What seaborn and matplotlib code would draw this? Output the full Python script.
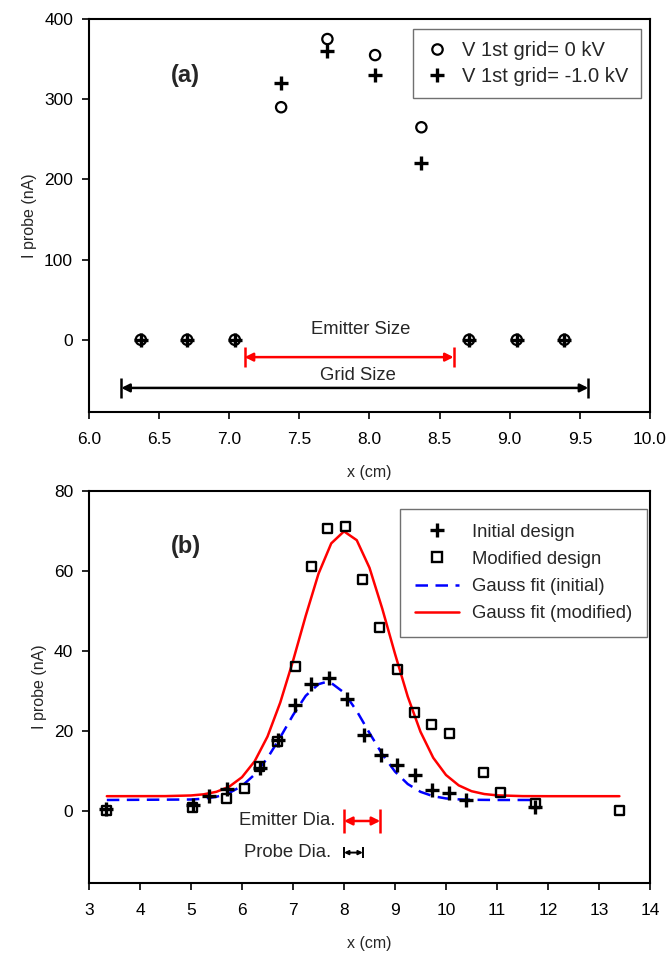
import numpy as np
import pandas as pd
import matplotlib
matplotlib.use("Agg")
import matplotlib.pyplot as plt
from matplotlib.lines import Line2D
import seaborn as sns

# ---------------- data: panel (a) ----------------
xa = [6.37, 6.70, 7.04, 7.37, 7.70, 8.04, 8.37, 8.71, 9.05, 9.39]
ia_0kv = [0, 0, 0, 290, 375, 355, 265, 0, 0, 0]
ia_m1kv = [0, 0, 0, 320, 360, 330, 220, 0, 0, 0]
legend_a = ["V 1st grid= 0 kV", "V 1st grid= -1.0 kV"]

# ---------------- data: panel (b) ----------------
x_init = [3.34, 5.03, 5.36, 5.70, 6.36, 6.70, 7.04, 7.35, 7.71, 8.05, 8.39,
          8.73, 9.04, 9.40, 9.72, 10.06, 10.39, 11.75]
i_init = [0.6, 1.5, 3.7, 5.4, 10.8, 17.7, 26.4, 31.8, 33.2, 28.0, 18.9,
          13.9, 11.6, 9.0, 5.2, 4.6, 2.7, 1.0]
x_mod = [3.34, 5.03, 5.70, 6.04, 6.34, 6.70, 7.04, 7.36, 7.68, 8.02, 8.37,
         8.70, 9.04, 9.39, 9.72, 10.06, 10.73, 11.07, 11.75, 13.41]
i_mod = [0.0, 0.8, 3.2, 5.6, 11.0, 17.4, 36.1, 61.0, 70.5, 71.2, 57.8,
         45.8, 35.3, 24.7, 21.6, 19.3, 9.5, 4.7, 1.8, 0.0]

# Gauss fit curves
fit_init_x = [3.35, 5.0, 5.25, 5.5, 5.75, 6.0, 6.25, 6.5, 6.75, 7.0, 7.25, 7.5,
              7.65, 7.75, 8.0, 8.25, 8.5, 8.75, 9.0, 9.25, 9.5, 9.75, 10.0,
              10.25, 10.5, 11.0, 11.75]
fit_init_y = [2.75, 2.87, 3.08, 3.55, 4.51, 6.27, 9.13, 13.25, 18.4, 23.96,
              28.8, 31.7, 32.25, 32.0, 29.6, 25.0, 19.5, 14.2, 9.85, 6.74,
              4.79, 3.69, 3.14, 2.90, 2.80, 2.75, 2.75]
fit_mod_x = [3.35, 4.5, 5.0, 5.25, 5.5, 5.75, 6.0, 6.25, 6.5, 6.75, 7.0, 7.25,
             7.5, 7.75, 8.0, 8.25, 8.5, 8.75, 9.0, 9.25, 9.5, 9.75, 10.0,
             10.25, 10.5, 10.75, 11.0, 11.5, 12.0, 13.4]
fit_mod_y = [3.7, 3.72, 3.88, 4.17, 4.80, 6.08, 8.45, 12.46, 18.6, 27.1, 37.5,
             48.8, 59.3, 66.9, 69.9, 67.7, 60.8, 50.6, 39.3, 28.6, 19.8, 13.3,
             9.0, 6.4, 4.95, 4.24, 3.91, 3.72, 3.7, 3.7]
legend_b = ["Initial design", "Modified design", "Gauss fit (initial)",
            "Gauss fit (modified)"]

# annotation values (x start, x end, y)
grid_size = [6.23, 9.56, -60]
emitter_size = [7.11, 8.60, -21.6]
emitter_dia = [8.00, 8.71, -2.5]
probe_dia = [8.00, 8.37, -10.4]

# ---------------- style ----------------
sns.set_style("ticks")
plt.rcParams["font.family"] = ["Liberation Sans", "DejaVu Sans"]
plt.rcParams["axes.linewidth"] = 1.5
plt.rcParams["xtick.major.width"] = 1.2
plt.rcParams["ytick.major.width"] = 1.2
plt.rcParams["xtick.major.size"] = 5
plt.rcParams["ytick.major.size"] = 5
plt.rcParams["xtick.direction"] = "out"
plt.rcParams["ytick.direction"] = "out"

TXT = 13.3

fig = plt.figure(figsize=(6.69, 9.55), dpi=100)
ax1 = fig.add_axes([0.133, 0.5686, 0.8386, 0.4115])
ax2 = fig.add_axes([0.133, 0.0754, 0.8386, 0.4105])

for ax in (ax1, ax2):
    for s in ax.spines.values():
        s.set_visible(True)
        s.set_color("black")
        s.set_linewidth(1.5)
    ax.tick_params(labelsize=12.5, colors="black")
    ax.tick_params(axis="x", pad=9.5)
    ax.tick_params(axis="y", pad=6.5)

# ---------- panel (a) ----------
df_a = pd.DataFrame({"x": xa, "v0": ia_0kv, "v1": ia_m1kv})
sns.scatterplot(data=df_a, x="x", y="v0", ax=ax1, marker="o", s=55,
                facecolor="none", edgecolor="black", linewidth=1.6, zorder=3)
sns.scatterplot(data=df_a, x="x", y="v1", ax=ax1, marker="+", s=110,
                color="black", linewidth=2.4, zorder=4)
ax1.set_xlim(6.0, 10.0)
ax1.set_ylim(-90, 400)
ax1.set_xticks(np.arange(6.0, 10.01, 0.5))
ax1.set_xticklabels([f"{v:.1f}" for v in np.arange(6.0, 10.01, 0.5)])
ax1.set_yticks([0, 100, 200, 300, 400])
ax1.set_xlabel("x (cm)", fontsize=11.5, labelpad=13)
ax1.set_ylabel("I probe (nA)", fontsize=11.5, labelpad=5)
ax1.text(6.69, 329, "(a)", fontsize=17, fontweight="bold", ha="center", va="center")


def dim_arrow(ax, x0, x1, y, color, caph, lw, ms):
    ax.annotate("", xy=(x1, y), xytext=(x0, y),
                arrowprops=dict(arrowstyle="<|-|>", color=color, lw=lw,
                                shrinkA=0, shrinkB=0, mutation_scale=ms))
    ax.vlines([x0, x1], y - caph, y + caph, color=color, lw=lw)


dim_arrow(ax1, emitter_size[0], emitter_size[1], emitter_size[2], "#ff0000", 12.5, 1.8, 12)
dim_arrow(ax1, grid_size[0], grid_size[1], grid_size[2], "black", 13, 1.8, 12)
ax1.text(7.94, 12.5, "Emitter Size", fontsize=TXT, ha="center", va="center")
ax1.text(7.92, -44.5, "Grid Size", fontsize=TXT, ha="center", va="center")

h_a = [Line2D([], [], marker="o", ls="", mfc="none", mec="black", ms=7.5, mew=1.6),
       Line2D([], [], marker="+", ls="", color="black", ms=10, mew=2.4)]
leg_a = ax1.legend(h_a, legend_a, loc="upper left",
                   bbox_to_anchor=(413 / 669, 1 - 29 / 955),
                   bbox_transform=fig.transFigure, borderaxespad=0,
                   fontsize=14.5, frameon=True, fancybox=False,
                   edgecolor="#707070", framealpha=1, borderpad=0.6,
                   labelspacing=0.34, handlelength=1.2, handletextpad=0.65)
leg_a.get_frame().set_linewidth(1.0)

# ---------- panel (b) ----------
df_i = pd.DataFrame({"x": x_init, "y": i_init})
df_m = pd.DataFrame({"x": x_mod, "y": i_mod})
df_fi = pd.DataFrame({"x": fit_init_x, "y": fit_init_y})
df_fm = pd.DataFrame({"x": fit_mod_x, "y": fit_mod_y})

sns.lineplot(data=df_fm, x="x", y="y", ax=ax2, color="#ff0000", lw=1.8,
             sort=False, estimator=None, zorder=2)
sns.lineplot(data=df_fi, x="x", y="y", ax=ax2, color="#0000ff", lw=1.8,
             sort=False, estimator=None, zorder=2, linestyle=(0, (5, 3)))
sns.scatterplot(data=df_m, x="x", y="y", ax=ax2, marker="s", s=42,
                facecolor="none", edgecolor="black", linewidth=1.7, zorder=3)
sns.scatterplot(data=df_i, x="x", y="y", ax=ax2, marker="+", s=110,
                color="black", linewidth=2.4, zorder=4)
ax2.set_xlim(3, 14)
ax2.set_ylim(-18, 80)
ax2.set_xticks(range(3, 15))
ax2.set_yticks([0, 20, 40, 60, 80])
ax2.set_xlabel("x (cm)", fontsize=11.5, labelpad=13)
ax2.set_ylabel("I probe (nA)", fontsize=11.5, labelpad=5)
ax2.text(4.90, 66, "(b)", fontsize=17, fontweight="bold", ha="center", va="center")

dim_arrow(ax2, emitter_dia[0], emitter_dia[1], emitter_dia[2], "#ff0000", 2.9, 1.8, 12)
dim_arrow(ax2, probe_dia[0], probe_dia[1], probe_dia[2], "black", 1.3, 1.4, 6)
ax2.text(7.84, emitter_dia[2], "Emitter Dia.", fontsize=TXT, ha="right", va="center")
ax2.text(7.75, probe_dia[2], "Probe Dia.", fontsize=TXT, ha="right", va="center")

h_b = [Line2D([], [], marker="+", ls="", color="black", ms=10, mew=2.4),
       Line2D([], [], marker="s", ls="", mfc="none", mec="black", ms=6.5, mew=1.7),
       Line2D([], [], color="#0000ff", lw=1.8, ls=(0, (5, 3))),
       Line2D([], [], color="#ff0000", lw=1.8)]
leg_b = ax2.legend(h_b, legend_b, loc="upper right",
                   bbox_to_anchor=(647 / 669, 1 - 509 / 955),
                   bbox_transform=fig.transFigure, borderaxespad=0,
                   fontsize=TXT, frameon=True, fancybox=False,
                   edgecolor="#707070", framealpha=1, borderpad=0.8,
                   labelspacing=0.55, handlelength=2.4, handletextpad=0.7)
leg_b.get_frame().set_linewidth(1.0)

fig.savefig("out.png", dpi=100)
